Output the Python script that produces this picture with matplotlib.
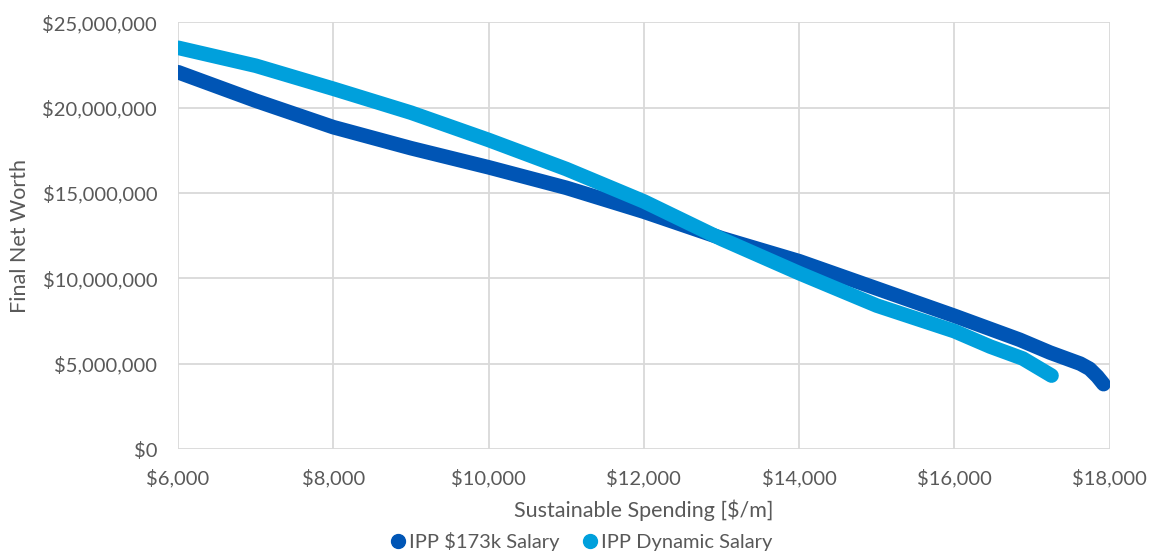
import matplotlib.pyplot as plt
from matplotlib.ticker import FuncFormatter
from matplotlib.lines import Line2D

# values
spend_fixed = [6000, 7000, 8000, 9000, 10000, 11000, 12000, 13000, 14000,
               15000, 16000, 16840, 17230, 17620, 17740, 17840, 17920]
worth_fixed = [22.07e6, 20.4e6, 18.85e6, 17.62e6, 16.5e6, 15.3e6, 13.9e6, 12.35e6,
               11.0e6, 9.4e6, 7.8e6, 6.4e6, 5.65e6, 5.0e6, 4.7e6, 4.25e6, 3.8e6]

spend_dynamic = [6000, 7000, 8000, 9000, 10000, 11000, 12000, 13000, 14000,
                 15000, 16000, 16460, 16880, 17250]
worth_dynamic = [23.5e6, 22.45e6, 21.1e6, 19.7e6, 18.1e6, 16.4e6, 14.5e6, 12.3e6,
                 10.3e6, 8.4e6, 6.9e6, 6.0e6, 5.3e6, 4.3e6]

series_names = ["IPP $173k Salary", "IPP Dynamic Salary"]
colors = ["#0055B5", "#00A0DC"]
text_gray = "#595959"
grid_gray = "#D9D9D9"

plt.rcParams['font.family'] = ['Lato', 'DejaVu Sans']

fig = plt.figure(figsize=(11.56, 5.54), dpi=100)
ax = fig.add_axes([0.154, 0.1895, 0.806, 0.7705])

ax.plot(spend_fixed, worth_fixed, color=colors[0], lw=10.5,
        solid_capstyle='round', solid_joinstyle='round', zorder=3)
ax.plot(spend_dynamic, worth_dynamic, color=colors[1], lw=10.5,
        solid_capstyle='round', solid_joinstyle='round', zorder=4)

ax.set_xlim(6000, 18000)
ax.set_ylim(0, 25e6)
ax.set_xticks(range(6000, 18001, 2000))
ax.set_yticks([i * 5e6 for i in range(6)])
ax.xaxis.set_major_formatter(FuncFormatter(lambda v, p: f"${v:,.0f}"))
ax.yaxis.set_major_formatter(FuncFormatter(lambda v, p: f"${v:,.0f}"))

ax.grid(True, color=grid_gray, lw=1.3, zorder=0)
ax.set_axisbelow(True)
for s in ax.spines.values():
    s.set_visible(False)
ax.tick_params(length=0, colors=text_gray, labelsize=14.5, pad=15)
ax.tick_params(axis='x', pad=14)

ax.set_xlabel("Sustainable Spending [$/m]", color=text_gray, fontsize=15.5, labelpad=9)
ax.set_ylabel("Final Net Worth", color=text_gray, fontsize=15.5, labelpad=9)

handles = [Line2D([], [], ls='none', marker='o', ms=10, color=c) for c in colors]
fig.legend(handles, series_names, loc='center', bbox_to_anchor=(0.502, 0.022),
           ncol=2, frameon=False, fontsize=14.5, labelcolor=text_gray,
           handletextpad=0.05, columnspacing=1.0, handlelength=1.0)

plt.savefig("out.png", dpi=100)
